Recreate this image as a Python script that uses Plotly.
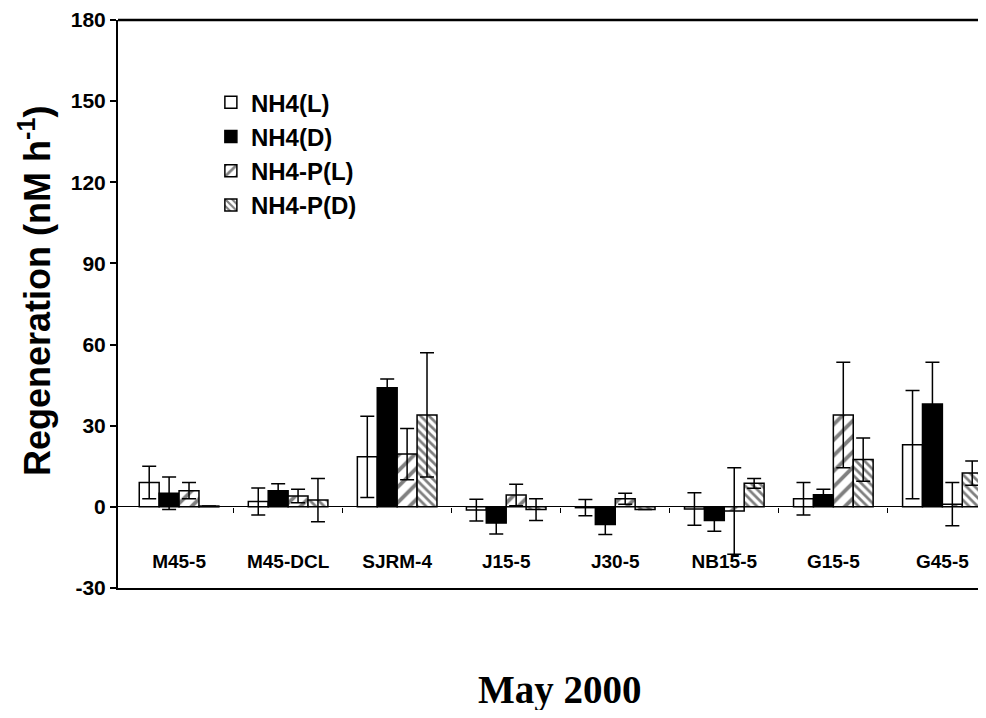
import plotly.graph_objects as go

categories = ["M45-5", "M45-DCL", "SJRM-4", "J15-5", "J30-5", "NB15-5", "G15-5", "G45-5"]
series_names = ["NH4(L)", "NH4(D)", "NH4-P(L)", "NH4-P(D)"]

nh4_l = [9.0, 2.0, 18.5, -1.2, -0.3, -0.8, 3.0, 23.0]
nh4_l_err = [6.0, 5.0, 15.0, 4.0, 3.0, 6.0, 6.0, 20.0]
nh4_d = [5.0, 6.0, 44.0, -6.0, -6.5, -5.0, 4.5, 38.0]
nh4_d_err = [6.0, 2.5, 3.3, 4.0, 3.7, 4.0, 2.0, 15.5]
nh4p_l = [6.0, 4.0, 19.5, 4.4, 3.0, -1.5, 34.0, 1.0]
nh4p_l_err = [3.0, 2.5, 9.5, 4.0, 2.0, 16.0, 19.5, 8.0]
nh4p_d = [0.3, 2.5, 34.0, -1.0, -1.0, 8.7, 17.5, 12.5]
nh4p_d_err = [0.0, 8.0, 23.0, 4.0, 0.0, 1.8, 8.0, 4.5]

y_ticks = [-30, 0, 30, 60, 90, 120, 150, 180]
y_tick_labels = ["-30", "0", "30", "60", "90", "120", "150", "180"]
y_min, y_max = -30, 180
x_min, x_max = -0.56, 7.4

x_pos = list(range(len(categories)))
boundaries = [i + 0.5 for i in range(len(categories) - 1)]

values = [nh4_l, nh4_d, nh4p_l, nh4p_d]
errors = [nh4_l_err, nh4_d_err, nh4p_l_err, nh4p_d_err]
styles = [
    dict(color="white", pattern=None),
    dict(color="black", pattern=None),
    dict(color="white", pattern=dict(shape="/", fgcolor="black", bgcolor="white", size=11, solidity=0.35)),
    dict(color="white", pattern=dict(shape="\\", fgcolor="black", bgcolor="white", size=6, solidity=0.45)),
]

fig = go.Figure()
for name, vals, errs, st in zip(series_names, values, errors, styles):
    marker = dict(color=st["color"], line=dict(color="black", width=1.5))
    if st["pattern"]:
        marker["pattern"] = st["pattern"]
    fig.add_trace(go.Bar(
        x=x_pos, y=vals, name=name, marker=marker,
        error_y=dict(type="data", array=errs, visible=True, color="black", thickness=1.5, width=7),
    ))

# invisible helper traces so the overlay axes (zero-line ticks, category labels) are drawn
for ax in ["x2", "x3"]:
    fig.add_trace(go.Scatter(x=x_pos, y=[None] * len(x_pos), xaxis=ax, yaxis="y",
                             mode="markers", showlegend=False, hoverinfo="skip"))

plot_h = 568
zero_pos = (0 - y_min) / (y_max - y_min)
label_pos = 40 / plot_h

fig.update_layout(
    width=978, height=702,
    margin=dict(l=110, r=0, t=12, b=122),
    plot_bgcolor="white", paper_bgcolor="white",
    barmode="group", bargap=0.27, bargroupgap=0,
    font=dict(family="Liberation Sans, Arial", color="black"),
    showlegend=True,
    legend=dict(x=0.107, y=0.894, xanchor="left", yanchor="top",
                font=dict(size=24, family="Liberation Sans, Arial", weight="bold"),
                bgcolor="rgba(0,0,0,0)", tracegroupgap=0, itemwidth=30),
    xaxis=dict(range=[x_min, x_max], showticklabels=False, ticks="",
               showgrid=False, zeroline=False, showline=True, linecolor="black", linewidth=2),
    xaxis2=dict(range=[x_min, x_max], overlaying="x", anchor="free", position=zero_pos,
                side="bottom", tickvals=boundaries, showticklabels=False,
                ticks="outside", ticklen=5, tickwidth=1, tickcolor="black",
                showgrid=False, zeroline=False, showline=False),
    xaxis3=dict(range=[x_min, x_max], overlaying="x", anchor="free", position=label_pos,
                side="bottom", tickvals=x_pos, ticktext=categories, ticks="",
                tickfont=dict(size=19, weight="bold"),
                showgrid=False, zeroline=False, showline=False),
    yaxis=dict(range=[y_min, y_max], tickvals=y_ticks, ticktext=y_tick_labels, showgrid=False,
               zeroline=True, zerolinecolor="black", zerolinewidth=1,
               showline=True, linecolor="black", linewidth=2,
               ticks="outside", ticklen=6, tickwidth=1.5, tickcolor="black",
               tickfont=dict(size=21, weight="bold")),
    shapes=[dict(type="line", xref="paper", yref="paper", x0=0, x1=1, y0=1, y1=1,
                 line=dict(color="black", width=2.5))],
    annotations=[
        dict(text="Regeneration (nM h<sup>-1</sup>)", xref="paper", yref="paper",
             x=-0.0956, y=0.523, xanchor="center", yanchor="middle", textangle=-90,
             showarrow=False, font=dict(size=36, weight="bold")),
        dict(text="May 2000", xref="paper", yref="paper", x=0.509, y=-0.18,
             xanchor="center", yanchor="middle", showarrow=False,
             font=dict(family="Liberation Serif, Times New Roman", size=39, weight="bold")),
    ],
)

fig.write_html("out.html")
